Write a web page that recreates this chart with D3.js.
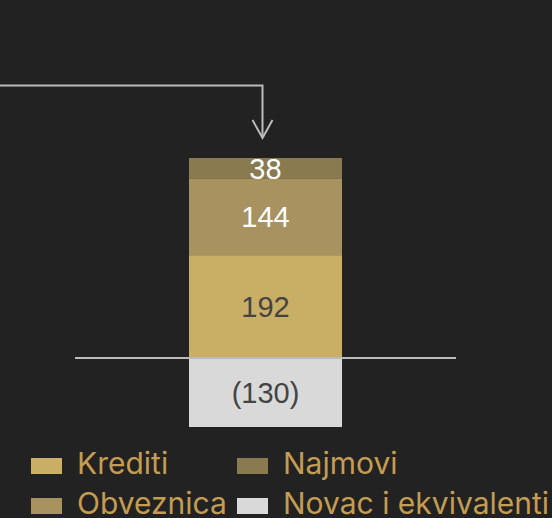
<!DOCTYPE html>
<html>
<head>
<meta charset="utf-8">
<script src="https://cdn.jsdelivr.net/npm/d3@7"></script>
<style>
  html, body { margin: 0; padding: 0; background: #222222; }
  svg { display: block; font-family: Inter, "Noto Sans", sans-serif; }
</style>
</head>
<body>
<div id="chart"></div>
<script>
const categories = ['Krediti', 'Obveznica', 'Najmovi', 'Novac i ekvivalenti'];
const values = [192, 144, 38, -130];
const labels = ['192', '144', '38', '(130)'];
const colors = ['#c9ae66', '#a8925f', '#8a7a50', '#d9d9d9'];
const labelColors = ['#444444', '#ffffff', '#ffffff', '#444444'];

const width = 552, height = 518;

const svg = d3.select('#chart').append('svg')
  .attr('width', width)
  .attr('height', height);

// stack positives upward, negatives downward from zero
let pos = 0, neg = 0;
const stacked = values.map((v, i) => {
  let y0, y1;
  if (v >= 0) { y0 = pos; y1 = pos + v; pos = y1; }
  else { y0 = neg; y1 = neg + v; neg = y1; }
  return { key: categories[i], value: v, y0, y1, i };
});

const x = d3.scaleBand()
  .domain(['total'])
  .range([75, 456])
  .paddingInner(0)
  .paddingOuter(0.745);

const y = d3.scaleLinear()
  .domain([-130, 374])
  .range([427, 158]);

const g = svg.append('g');

g.selectAll('rect.seg')
  .data(stacked)
  .enter().append('rect')
  .attr('class', 'seg')
  .attr('x', x('total'))
  .attr('width', x.bandwidth())
  .attr('y', d => y(Math.max(d.y0, d.y1)))
  .attr('height', d => Math.abs(y(d.y0) - y(d.y1)))
  .attr('fill', d => colors[d.i]);

g.selectAll('text.lbl')
  .data(stacked)
  .enter().append('text')
  .attr('class', 'lbl')
  .attr('x', x('total') + x.bandwidth() / 2)
  .attr('y', d => (y(d.y0) + y(d.y1)) / 2)
  .attr('dy', '0.36em')
  .attr('text-anchor', 'middle')
  .attr('font-family', '"Liberation Sans", Arial, sans-serif')
  .attr('font-size', 29)
  .attr('fill', d => labelColors[d.i])
  .text(d => labels[d.i]);

// zero line
g.append('line')
  .attr('x1', 75).attr('x2', 456)
  .attr('y1', y(0) + 0.5).attr('y2', y(0) + 0.5)
  .attr('stroke', '#bbbbbb')
  .attr('stroke-width', 2);

// arrow from left
const ax = x('total') + x.bandwidth() / 2 - 3;
svg.append('path')
  .attr('d', `M0,85.5 H${ax} V137`)
  .attr('fill', 'none')
  .attr('stroke', '#bbbbbb')
  .attr('stroke-width', 2);
svg.append('path')
  .attr('d', `M${ax - 10},120 L${ax},138 L${ax + 10},120`)
  .attr('fill', 'none')
  .attr('stroke', '#bbbbbb')
  .attr('stroke-width', 2);

// legend
const legendOrder = [0, 2, 1, 3];
const colX = [31, 237];
const rowY = [458, 498];
const legend = svg.append('g');
legendOrder.forEach((ci, k) => {
  const col = k % 2, row = Math.floor(k / 2);
  const lg = legend.append('g')
    .attr('transform', `translate(${colX[col]},${rowY[row]})`);
  lg.append('rect')
    .attr('width', 31).attr('height', 16)
    .attr('fill', colors[ci]);
  lg.append('text')
    .attr('x', 46).attr('y', 15.5)
    .attr('font-size', 30)
    .attr('fill', '#c49c52')
    .text(categories[ci]);
});
</script>
</body>
</html>
